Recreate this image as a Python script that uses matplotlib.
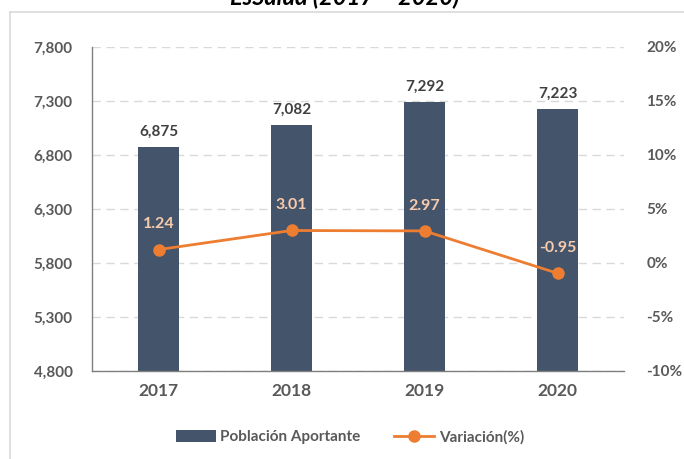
import matplotlib
matplotlib.use("Agg")
import matplotlib.pyplot as plt
from matplotlib.lines import Line2D
from matplotlib.patches import Patch
from matplotlib.ticker import FuncFormatter

years = ["2017", "2018", "2019", "2020"]
poblacion = [6875, 7082, 7292, 7223]
variacion = [1.24, 3.01, 2.97, -0.95]
left_ticks = [4800, 5300, 5800, 6300, 6800, 7300, 7800]
right_ticks = [-10, -5, 0, 5, 10, 15, 20]
title = "EsSalud (2017 – 2020)"

plt.rcParams['font.family'] = ['Lato', 'DejaVu Sans']

W, H = 684, 459
fig = plt.figure(figsize=(W/100, H/100), dpi=100)
ax = fig.add_axes([92/W, 1-371/H, (624-92)/W, (371-47)/H])
ax2 = ax.twinx()

bar_color = "#44546A"
line_color = "#ED7D31"
tick_color = "#595959"

x = list(range(len(years)))
ax.bar(x, poblacion, width=0.315, color=bar_color, zorder=2)
ax.set_xlim(-0.5, 3.5)
ax.set_ylim(4800, 7800)
ax.set_yticks(left_ticks)
ax.yaxis.set_major_formatter(FuncFormatter(lambda v, p: f"{int(v):,}"))
ax.set_xticks(x)
ax.set_xticklabels(years)
ax.grid(axis='y', color="#D9D9D9", linestyle=(0, (6, 4)), linewidth=1, zorder=0)
ax.set_axisbelow(True)
for s in ['top', 'right']:
    ax.spines[s].set_visible(False)
for s in ['left', 'bottom']:
    ax.spines[s].set_color("#7F7F7F")
    ax.spines[s].set_linewidth(1)
ax.tick_params(axis='y', length=0, pad=14, labelsize=11, labelcolor=tick_color)
ax.tick_params(axis='x', length=0, pad=9, labelsize=12.5, labelcolor=tick_color)
for lbl in ax.get_yticklabels() + ax.get_xticklabels():
    lbl.set_fontweight('bold')

for xi, v in zip(x, poblacion):
    ax.text(xi, v + 75, f"{v:,}", ha='center', va='bottom', fontsize=11,
            fontweight='bold', color="#404040")

ax2.plot(x, variacion, color=line_color, linewidth=2, marker='o', markersize=8, zorder=3)
ax2.set_ylim(-10, 20)
ax2.set_yticks(right_ticks)
ax2.yaxis.set_major_formatter(FuncFormatter(lambda v, p: f"{int(v)}%"))
for s in ['top', 'right', 'left', 'bottom']:
    ax2.spines[s].set_visible(False)
ax2.tick_params(axis='y', length=0, pad=16, labelsize=11, labelcolor=tick_color)
for lbl in ax2.get_yticklabels():
    lbl.set_fontweight('bold')
for xi, v in zip(x, variacion):
    ax2.text(xi, v + 1.7, f"{v:.2f}", ha='center', va='bottom', fontsize=11.5,
             fontweight='bold', color="#F8CBAD")

handles = [Patch(facecolor=bar_color, edgecolor='none'),
           Line2D([0], [0], color=line_color, linewidth=2, marker='o', markersize=8)]
fig.legend(handles, ["Población Aportante", "Variación(%)"], loc='center',
           bbox_to_anchor=(350/W, 1-437/H), ncol=2, frameon=False,
           prop={'weight': 'bold', 'size': 11}, labelcolor=tick_color,
           handlelength=2.6, handletextpad=0.3, columnspacing=2.2,
           handleheight=0.8)

# chart frame
fig.add_artist(Line2D([10/W, 10/W], [0, 1-12/H], color="#D9D9D9", linewidth=1.2,
                      transform=fig.transFigure))
fig.add_artist(Line2D([10/W, 1], [1-12/H, 1-12/H], color="#D9D9D9", linewidth=1.2,
                      transform=fig.transFigure))

# title, mostly cut by top edge (as in the reference)
fig.text(345/W, 1-5/H, title, ha='center', va='baseline', fontsize=17,
         fontweight='bold', fontstyle='italic', color="#000000")

fig.savefig("out.png", dpi=100)
